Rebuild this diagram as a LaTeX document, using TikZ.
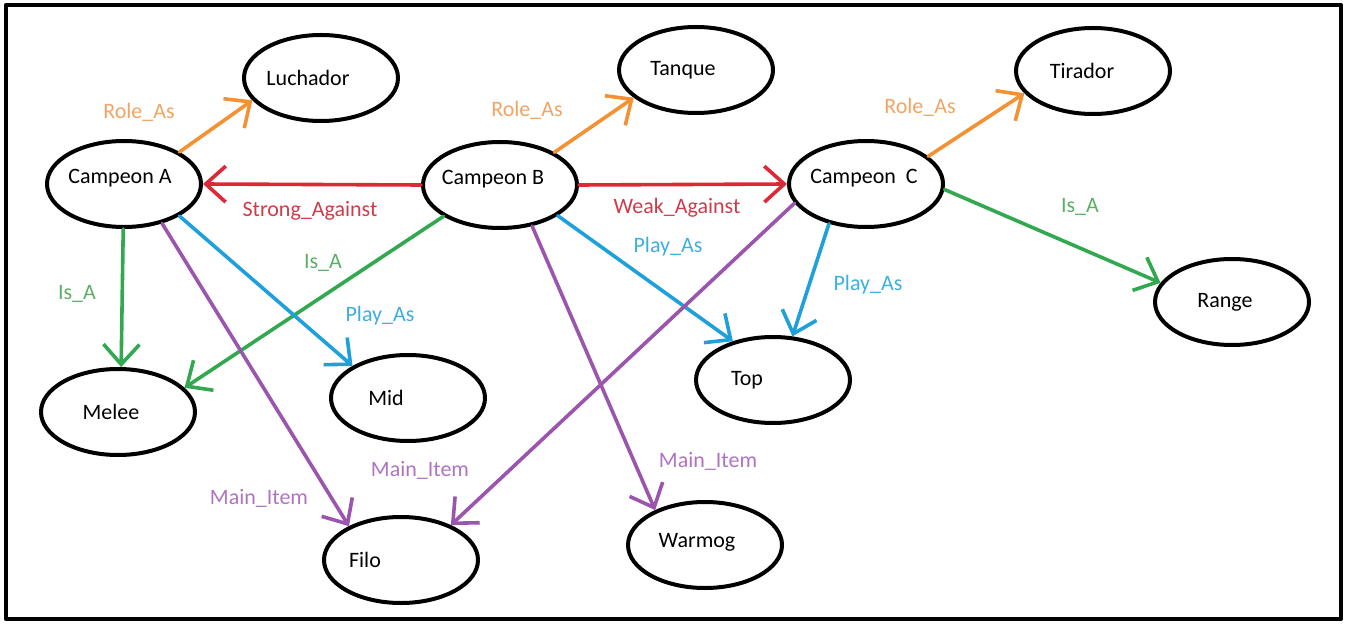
\documentclass[tikz,border=0pt]{standalone}
\usepackage{fontspec}
\setmainfont{Carlito}
\usetikzlibrary{shapes.geometric,arrows.meta}

\definecolor{roleLn}{RGB}{244,145,50}
\definecolor{roleTx}{RGB}{240,165,100}
\definecolor{againstLn}{RGB}{222,40,55}
\definecolor{againstTx}{RGB}{205,60,75}
\definecolor{isLn}{RGB}{50,168,80}
\definecolor{isTx}{RGB}{90,175,100}
\definecolor{playLn}{RGB}{30,160,220}
\definecolor{playTx}{RGB}{60,175,225}
\definecolor{itemLn}{RGB}{155,85,175}
\definecolor{itemTx}{RGB}{175,115,195}

\begin{document}
\begin{tikzpicture}[x=0.5pt,y=-0.5pt,line cap=round,line join=round,
  concept/.style={ellipse,draw,line width=2pt,minimum width=77pt,minimum height=43pt,
    inner sep=0pt,font=\fontsize{11}{13}\selectfont},
  txshift/.style={execute at begin node={\hspace*{#1pt}}},
  txup/.style={text depth=8pt},
  rel/.style={line width=1.8pt,-{Straight Barb[length=10pt,width=18pt]}},
  lbl/.style={font=\fontsize{11}{13}\selectfont,inner sep=0pt}]
  \useasboundingbox (0,0) rectangle (1347,625);
  \draw[line width=2.2pt] (6,5) rectangle (1341,619);
  % concepts
  \node[concept,txshift=-13] (luchador) at (321,78) {Luchador};
  \node[concept,txshift=-13] (tanque) at (696,70) {Tanque};
  \node[concept,txshift=-11] (tirador) at (1093,71) {Tirador};
  \node[concept,txshift=-4,txup] (campA) at (124,184) {Campeon A};
  \node[concept,txshift=-7,txup] (campB) at (500,185) {Campeon B};
  \node[concept,txshift=-2,txup] (campC) at (866,184) {Campeon~ C};
  \node[concept,txshift=-7] (range) at (1232,302) {Range};
  \node[concept,txshift=-7] (melee) at (118,412) {Melee};
  \node[concept,txshift=-22] (mid) at (408,398) {Mid};
  \node[concept,txshift=-26] (top) at (773,380) {Top};
  \node[concept,txshift=-36] (filo) at (401,560) {Filo};
  \node[concept,txshift=-8,text depth=5pt] (warmog) at (705,545) {Warmog};
  % relations
  \draw[rel,roleLn] (campA.30) -- (luchador.198);
  \draw[rel,roleLn] (campB.31) -- (tanque.204);
  \draw[rel,roleLn] (campC.24) -- (tirador.198);
  \draw[rel,againstLn] (campB.west) -- (campA.east);
  \draw[rel,againstLn] (campB.east) -- (campC.west);
  \draw[rel,isLn] (campA.-91) -- (melee.86);
  \draw[rel,isLn] (campB.209) -- (melee.20);
  \draw[rel,isLn] (campC.-4) -- (range.165);
  \draw[rel,playLn] (campA.-30) -- (mid.150);
  \draw[rel,playLn] (campB.-28) -- (top.136);
  \draw[rel,playLn] (campC.227) -- (top.66);
  \draw[rel,itemLn] (campA.-46) -- (filo.147);
  \draw[rel,itemLn] (campC.195) -- (filo.35);
  \draw[rel,itemLn] (campB.-52) -- (warmog.145);
  % labels
  \node[lbl,roleTx] (roleA) at (139,112) {Role\_As};
  \node[lbl,roleTx] (roleB) at (527,110) {Role\_As};
  \node[lbl,roleTx] (roleC) at (920,107) {Role\_As};
  \node[lbl,againstTx] (strong) at (310,211) {Strong\_Against};
  \node[lbl,againstTx] (weak) at (677,208) {Weak\_Against};
  \node[lbl,isTx] (isA) at (77,294) {Is\_A};
  \node[lbl,isTx] (isB) at (323,263) {Is\_A};
  \node[lbl,isTx] (isC) at (1080,207) {Is\_A};
  \node[lbl,playTx] (playA) at (380,316) {Play\_As};
  \node[lbl,playTx] (playB) at (668,247) {Play\_As};
  \node[lbl,playTx] (playC) at (868,285) {Play\_As};
  \node[lbl,itemTx] (itemA) at (259,498) {Main\_Item};
  \node[lbl,itemTx] (itemC) at (420,470) {Main\_Item};
  \node[lbl,itemTx] (itemB) at (708,461) {Main\_Item};
\end{tikzpicture}
\end{document}
